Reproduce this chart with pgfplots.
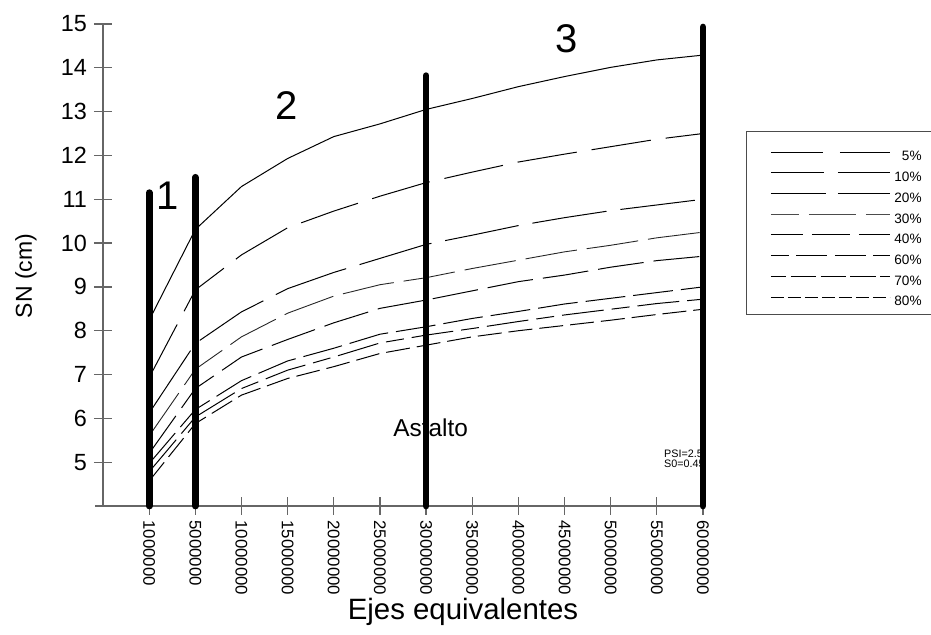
\documentclass[border=0pt]{standalone}
\usepackage{fontspec}
\setmainfont{Liberation Sans}
\usepackage{pgfplots}
\pgfplotsset{compat=1.18}
\begin{document}
\begin{tikzpicture}
\path[use as bounding box] (-51.5pt,-64.5pt) rectangle (414pt,253pt);
\begin{axis}[
  at={(0pt,0pt)}, anchor=south west,
  scale only axis, width=300pt, height=241pt,
  xmin=-1, xmax=12, ymin=4, ymax=15,
  axis x line=bottom, axis y line=left,
  axis line style={-, draw=black!60, line width=0.65pt},
  xtick={0,...,12},
  xticklabels={1000000,5000000,10000000,15000000,20000000,25000000,30000000,35000000,40000000,45000000,50000000,55000000,60000000},
  ytick={5,...,15},
  tick align=center, major tick length=9pt,
  tick style={black!60, line width=0.6pt},
  /pgf/number format/assume math mode=true,
  yticklabel style={font=\fontsize{11.7}{12}\selectfont},
  xticklabel style={font=\fontsize{8.4}{9}\selectfont, yshift=0.8pt, rotate=-90, anchor=west},
  clip=false,
  ylabel={SN (cm)},
  every axis y label/.style={at={(axis description cs:-0.1283,0.477)}, rotate=90, anchor=center, font=\fontsize{11.5}{12}\selectfont},
  xlabel={Ejes equivalentes},
  every axis x label/.style={at={(axis description cs:0.6,-0.235)}, anchor=base, font=\fontsize{14.7}{15}\selectfont},
  legend style={draw=none, fill=none, at={(axis description cs:1.1117,0.7375)}, anchor=north west, inner sep=0pt, row sep=4.35pt, font=\fontsize{6.8}{7}\selectfont, nodes={inner sep=0pt, text height=5pt, text depth=1pt}, /tikz/every odd column/.append style={column sep=2pt}},
  legend cell align=right,
  legend image code/.code={\draw[#1] (0pt,2.4pt) -- (59.5pt,2.4pt);},
]
% annotations (drawn first so the bars cover them)
\node[font=\fontsize{20}{20}\selectfont] at (axis cs:0.41,11.07) {1};
\node[font=\fontsize{20}{20}\selectfont] at (axis cs:2.98,13.15) {2};
\node[font=\fontsize{20}{20}\selectfont] at (axis cs:9.05,14.66) {3};
\node[font=\fontsize{12.2}{13}\selectfont] at (axis cs:6.1,5.78) {Asfalto};
\node[font=\fontsize{5.4}{6}\selectfont, anchor=west, inner sep=0pt] at (axis cs:11.15,5.19) {PSI=2.5};
\node[font=\fontsize{5.4}{6}\selectfont, anchor=west, inner sep=0pt] at (axis cs:11.15,4.96) {S0=0.45};

% legend images
\addlegendimage{black, line width=0.5pt, dash pattern=on 26pt off 8.5pt}
\addlegendentry{5\%}
\addlegendimage{black, line width=0.5pt, dash pattern=on 26.5pt off 7pt}
\addlegendentry{10\%}
\addlegendimage{black, line width=0.5pt, dash pattern=on 27.5pt off 6pt}
\addlegendentry{20\%}
\addlegendimage{black!70, line width=0.45pt, dash pattern=on 23.5pt off 5pt, dash phase=9.5pt}
\addlegendentry{30\%}
\addlegendimage{black, line width=0.5pt, dash pattern=on 19pt off 4.5pt, dash phase=3pt}
\addlegendentry{40\%}
\addlegendimage{black, line width=0.5pt, dash pattern=on 15.5pt off 3.75pt, dash phase=6.5pt}
\addlegendentry{60\%}
\addlegendimage{black, line width=0.5pt, dash pattern=on 12.7pt off 2.2pt, dash phase=5pt}
\addlegendentry{70\%}
\addlegendimage{black, line width=0.5pt, dash pattern=on 6.5pt off 2pt}
\addlegendentry{80\%}

% curves
\addplot[forget plot, black, line width=0.5pt] coordinates {
(0,8.24) (1,10.31) (2,11.29) (3,11.93) (4,12.43) (5,12.72) (6,13.05) (7,13.30) (8,13.57) (9,13.80) (10,14.01) (11,14.18) (12,14.29)};
\addplot[forget plot, black, line width=0.5pt, dash pattern=on 30pt off 7.5pt] coordinates {
(0,6.93) (1,8.93) (2,9.73) (3,10.35) (4,10.73) (5,11.07) (6,11.38) (7,11.62) (8,11.85) (9,12.03) (10,12.20) (11,12.37) (12,12.50)};
\addplot[forget plot, black, line width=0.5pt, dash pattern=on 37.5pt off 7pt] coordinates {
(0,6.12) (1,7.71) (2,8.43) (3,8.96) (4,9.33) (5,9.65) (6,9.97) (7,10.18) (8,10.40) (9,10.58) (10,10.74) (11,10.87) (12,11.00)};
\addplot[forget plot, black!85, line width=0.45pt, dash pattern=on 26pt off 5pt] coordinates {
(0,5.60) (1,7.12) (2,7.86) (3,8.40) (4,8.79) (5,9.05) (6,9.21) (7,9.42) (8,9.61) (9,9.80) (10,9.95) (11,10.12) (12,10.25)};
\addplot[forget plot, black, line width=0.5pt, dash pattern=on 23pt off 5pt] coordinates {
(0,5.20) (1,6.68) (2,7.40) (3,7.80) (4,8.18) (5,8.51) (6,8.70) (7,8.91) (8,9.12) (9,9.27) (10,9.45) (11,9.60) (12,9.70)};
\addplot[forget plot, black, line width=0.5pt, dash pattern=on 20pt off 4pt] coordinates {
(0,4.97) (1,6.20) (2,6.86) (3,7.31) (4,7.60) (5,7.92) (6,8.09) (7,8.28) (8,8.44) (9,8.61) (10,8.74) (11,8.87) (12,9.00)};
\addplot[forget plot, black, line width=0.5pt, dash pattern=on 21pt off 4pt on 9pt off 4pt] coordinates {
(0,4.78) (1,6.03) (2,6.68) (3,7.10) (4,7.40) (5,7.72) (6,7.90) (7,8.05) (8,8.21) (9,8.36) (10,8.49) (11,8.62) (12,8.72)};
\addplot[forget plot, black, line width=0.5pt, dash pattern=on 12pt off 3.5pt] coordinates {
(0,4.57) (1,5.88) (2,6.53) (3,6.91) (4,7.18) (5,7.48) (6,7.67) (7,7.86) (8,8.00) (9,8.12) (10,8.24) (11,8.37) (12,8.49)};

% thick vertical bars
\addplot[forget plot, black, line width=3.4pt, line cap=round] coordinates {(0,4) (0,11.15)};
\addplot[forget plot, black, line width=3.4pt, line cap=round] coordinates {(1,4) (1,11.5)};
\addplot[forget plot, black, line width=3.4pt, line cap=round] coordinates {(6,4) (6,13.82)};
\addplot[forget plot, black, line width=3.4pt, line cap=round] coordinates {(12,4) (12,14.93)};
\end{axis}
\draw[black!60, line width=0.65pt] (-4pt,0pt) -- (0pt,0pt);
\draw[black!70, line width=0.5pt] (321.5pt,187pt) rectangle (415.5pt,95.5pt);
\end{tikzpicture}
\end{document}
